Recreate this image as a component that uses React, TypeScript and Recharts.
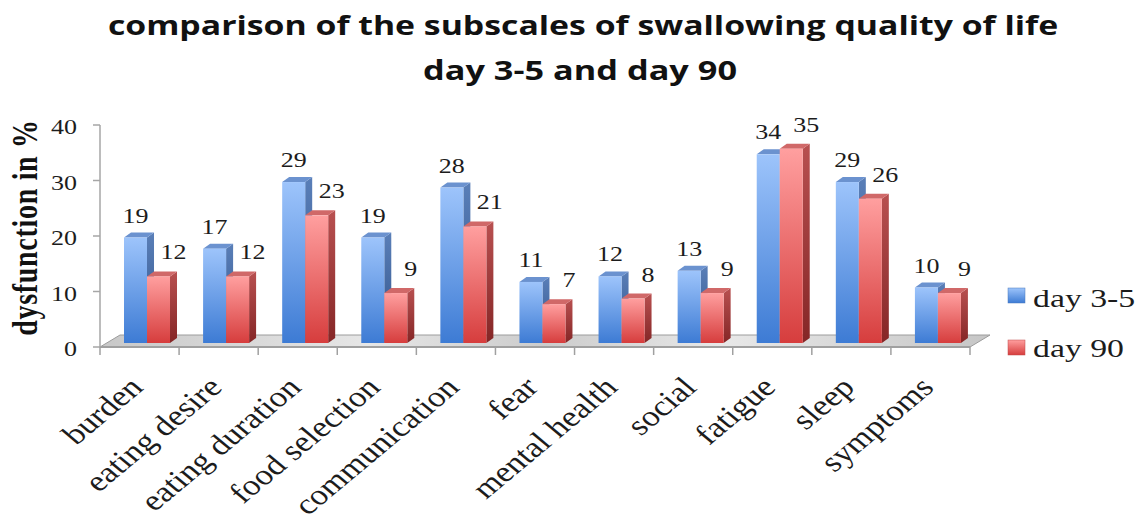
import React from 'react';
import { BarChart, Bar, XAxis, YAxis, LabelList, usePlotArea } from 'recharts';

const categories = ['burden', 'eating desire', 'eating duration', 'food selection', 'communication', 'fear', 'mental health', 'social', 'fatigue', 'sleep', 'symptoms'];
const day35 = [19, 17, 29, 19, 28, 11, 12, 13, 34, 29, 10];
const day90 = [12, 12, 23, 9, 21, 7, 8, 9, 35, 26, 9];
const yTicks = [0, 10, 20, 30, 40];
const seriesNames = ['day 3-5', 'day 90'];

const data = categories.map((name, i) => ({ name, d35: day35[i], d90: day90[i] }));

const SX = 1.3; // horizontal stretch of the reference text
const SHIFT_X = 7;
const SHIFT_Y = 4;
const DX = 7;
const DY = 5;
const TEXT = '#1c1c1c';
const SERIF = '"Liberation Serif", "Times New Roman", serif';

const COLORS = {
  blue: { top: '#6b92cf', id: 'gBlue', sideId: 'gBlueSide' },
  red: { top: '#d06868', id: 'gRed', sideId: 'gRedSide' },
};

function make3DBar(c: any) {
  return (props: any) => {
    const { x, y, width, height } = props;
    if (height == null || width == null || height <= 0) return <g />;
    const fx = x + SHIFT_X;
    const fy = y - SHIFT_Y;
    const side = `${fx + width},${fy} ${fx + width + DX},${fy - DY} ${fx + width + DX},${fy + height - DY} ${fx + width},${fy + height}`;
    const top = `${fx},${fy} ${fx + DX},${fy - DY} ${fx + width + DX},${fy - DY} ${fx + width},${fy}`;
    return (
      <g>
        <polygon points={side} fill={`url(#${c.sideId})`} />
        <polygon points={top} fill={c.top} />
        <rect x={fx} y={fy} width={width} height={height} fill={`url(#${c.id})`} />
      </g>
    );
  };
}

function makeLabel(dx: number, above: number) {
  return (props: any) => {
    const vb = props.viewBox || props;
    const x = props.x ?? vb.x;
    const y = props.y ?? vb.y;
    const w = props.width ?? vb.width;
    const cx = x + w / 2 + SHIFT_X + dx;
    const base = y - SHIFT_Y - above + 7;
    return (
      <text transform={`translate(${cx},${base}) scale(${SX},1)`} textAnchor="middle" fontFamily={SERIF} fontSize={20} fill={TEXT}>
        {props.value}
      </text>
    );
  };
}

function Floor() {
  const pa: any = usePlotArea();
  if (!pa) return null;
  const { x, y, width, height } = pa;
  const b = y + height;
  const pts = `${x},${b} ${x + width},${b} ${x + width + 20},${b - 12} ${x + 20},${b - 12}`;
  return (
    <g>
      <polygon points={pts} fill="url(#gFloor)" stroke="#9c9c9c" strokeWidth={1} />
    </g>
  );
}

function XTick(props: any) {
  const { x, y, payload, index } = props;
  const off = payload && payload.offset ? payload.offset : 39.55;
  const last = index === categories.length - 1;
  return (
    <g>
      <line x1={x - off} y1={y} x2={x - off} y2={y + 8} stroke="#a0a0a0" strokeWidth={1.5} />
      {last && <line x1={x + off} y1={y} x2={x + off} y2={y + 8} stroke="#a0a0a0" strokeWidth={1.5} />}
      <text transform={`translate(${x + 5},${y + 42}) scale(1.2,1) rotate(-45)`} textAnchor="end" fontFamily={SERIF} fontSize={29} fill={TEXT}>
        {payload.value}
      </text>
    </g>
  );
}

function YTick(props: any) {
  const { x, y, payload } = props;
  return (
    <text transform={`translate(${x},${y + 9}) scale(${SX},1)`} textAnchor="end" fontFamily={SERIF} fontSize={20} fill={TEXT}>
      {payload.value}
    </text>
  );
}

export default function App() {
  return (
    <div style={{ position: 'absolute', left: 0, top: 0, width: 1138, height: 515, background: '#fff', overflow: 'hidden' }}>
      <svg width={0} height={0} style={{ position: 'absolute' }}>
        <defs>
          <linearGradient id="gBlue" x1="0" y1="0" x2="0" y2="1">
            <stop offset="0" stopColor="#9dc4fb" />
            <stop offset="1" stopColor="#3d7bd4" />
          </linearGradient>
          <linearGradient id="gBlueSide" x1="0" y1="0" x2="0" y2="1">
            <stop offset="0" stopColor="#5a7fb8" />
            <stop offset="1" stopColor="#30538a" />
          </linearGradient>
          <linearGradient id="gRed" x1="0" y1="0" x2="0" y2="1">
            <stop offset="0" stopColor="#ff9f9f" />
            <stop offset="1" stopColor="#d63d3d" />
          </linearGradient>
          <linearGradient id="gRedSide" x1="0" y1="0" x2="0" y2="1">
            <stop offset="0" stopColor="#b85050" />
            <stop offset="1" stopColor="#852626" />
          </linearGradient>
          <linearGradient id="gFloor" x1="0" y1="0" x2="1" y2="0">
            <stop offset="0" stopColor="#c8c8c8" />
            <stop offset="0.3" stopColor="#e6e6e6" />
            <stop offset="0.5" stopColor="#cccccc" />
            <stop offset="0.7" stopColor="#e8e8e8" />
            <stop offset="1" stopColor="#c6c6c6" />
          </linearGradient>
          <linearGradient id="gLegBlue" x1="0" y1="0" x2="0" y2="1">
            <stop offset="0" stopColor="#9dc4fb" />
            <stop offset="1" stopColor="#3d7bd4" />
          </linearGradient>
          <linearGradient id="gLegRed" x1="0" y1="0" x2="0" y2="1">
            <stop offset="0" stopColor="#ff9f9f" />
            <stop offset="1" stopColor="#d63d3d" />
          </linearGradient>
        </defs>
      </svg>
      <BarChart
        width={1138}
        height={515}
        data={data}
        margin={{ top: 125, right: 168, bottom: 0, left: 40 }}
        barCategoryGap="21.5%"
        barGap={0}
      >
        <Floor />
        <XAxis
          dataKey="name"
          height={168}
          interval={0}
          tickLine={false}
          tickSize={0}
          tickMargin={0}
          axisLine={{ stroke: '#a0a0a0', strokeWidth: 2 }}
          tick={(p: any) => <XTick {...p} />}
        />
        <YAxis
          domain={[0, 40]}
          ticks={yTicks}
          width={60}
          tickSize={7}
          tickMargin={16}
          axisLine={{ stroke: '#a6a6a6', strokeWidth: 1.5 }}
          tickLine={{ stroke: '#a6a6a6', strokeWidth: 1.5 }}
          tick={(p: any) => <YTick {...p} />}
        />
        <Bar dataKey="d35" name={seriesNames[0]} isAnimationActive={false} shape={make3DBar(COLORS.blue)}>
          <LabelList dataKey="d35" content={makeLabel(0, 22)} />
        </Bar>
        <Bar dataKey="d90" name={seriesNames[1]} isAnimationActive={false} shape={make3DBar(COLORS.red)}>
          <LabelList dataKey="d90" content={makeLabel(15, 24)} />
        </Bar>
      </BarChart>
      <svg width={1138} height={515} style={{ position: 'absolute', left: 0, top: 0, pointerEvents: 'none' }}>
        <g fontFamily='"Open Sans", sans-serif' fontWeight={700} fontSize={26} fill="#111">
          <text transform="translate(583,34.5) scale(1.3,1)" textAnchor="middle">comparison of the subscales of swallowing quality of life</text>
          <text transform="translate(580,79.5) scale(1.32,1)" textAnchor="middle">day 3-5 and day 90</text>
        </g>
        <text transform={`translate(37,227.5) scale(${SX},1) rotate(-90)`} textAnchor="middle" fontFamily={SERIF} fontWeight={700} fontSize={28} letterSpacing={0.7} fill="#111">
          dysfunction in %
        </text>
        <rect x={1008} y={288} width={17} height={15} fill="url(#gLegBlue)" stroke="#4a78bd" strokeWidth={0.5} />
        <text transform={`translate(1033,307) scale(${SX},1)`} fontFamily={SERIF} fontSize={26} fill={TEXT}>{seriesNames[0]}</text>
        <rect x={1008} y={340} width={17} height={15} fill="url(#gLegRed)" stroke="#c04a4a" strokeWidth={0.5} />
        <text transform={`translate(1033,357) scale(${SX},1)`} fontFamily={SERIF} fontSize={26} fill={TEXT}>{seriesNames[1]}</text>
      </svg>
    </div>
  );
}
